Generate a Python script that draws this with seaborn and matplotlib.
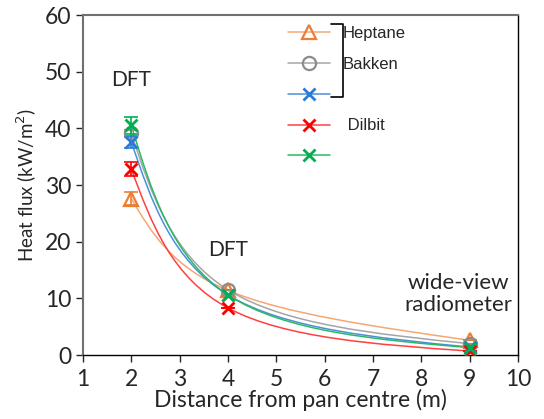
import numpy as np
import pandas as pd
import seaborn as sns
import matplotlib.pyplot as plt
from matplotlib.path import Path
from matplotlib.patches import PathPatch
from matplotlib.lines import Line2D

# distances (m)
distance = [2, 4, 9]

# heat flux per series (kW/m2)
heptane = [27.6, 11.4, 2.6]
bakken = [39.1, 11.5, 2.0]
blue_series = [37.6, 10.6, 1.4]
dilbit = [32.8, 8.3, 0.7]
green_series = [40.5, 10.6, 1.3]

# error bars (only visible at 2 m)
heptane_err = [1.1, 0, 0]
bakken_err = [0.6, 0, 0]
blue_err = [1.0, 0, 0]
dilbit_err = [1.3, 0, 0]
green_err = [1.5, 0, 0]

labels = ["Heptane", "Bakken", " ", " Dilbit", " "]


def smooth_path(xs, ys):
    # excel-like smoothed line: bezier segments, catmull-rom inside, natural ends
    p = np.column_stack([xs, ys]).astype(float)
    n = len(p)
    tang = []
    for i in range(n):
        if 0 < i < n - 1:
            tang.append((p[i + 1] - p[i - 1]) / 6.0)
        else:
            tang.append(None)
    verts = [p[0]]
    codes = [Path.MOVETO]
    for i in range(n - 1):
        a, b = p[i], p[i + 1]
        c2 = b - tang[i + 1] if tang[i + 1] is not None else None
        c1 = a + tang[i] if tang[i] is not None else None
        if c1 is None and c2 is None:
            c1 = a + (b - a) / 3
            c2 = b - (b - a) / 3
        elif c1 is None:
            c1 = a + (c2 - a) / 2
        elif c2 is None:
            c2 = b + (c1 - b) / 2
        verts += [c1, c2, b]
        codes += [Path.CURVE4] * 3
    return Path(verts, codes)


series = [
    (heptane, heptane_err, "#ED7D31", "#F4A874", "^", 10, 1.6, "none"),
    (bakken, bakken_err, "#8C8C8C", "#A5A5A5", "o", 9.5, 1.6, "none"),
    (blue_series, blue_err, "#2B7BD3", "#4A90DA", "x", 8.5, 2.0, "none"),
    (dilbit, dilbit_err, "#FF0000", "#FF4040", "x", 8.5, 2.0, "none"),
    (green_series, green_err, "#00B050", "#2CB866", "x", 8.5, 2.0, "none"),
]

sns.set_style("ticks")
plt.rcParams["font.family"] = ["Lato", "DejaVu Sans"]

fig = plt.figure(figsize=(5.44, 4.19), dpi=100)
ax = fig.add_axes([83 / 544, 64 / 419, 435 / 544, 340 / 419])

handles = []
for vals, err, col, lcol, mk, ms, mew, fc in series:
    ax.add_patch(PathPatch(smooth_path(distance, vals), facecolor="none",
                           edgecolor=lcol, lw=1.1, zorder=2))
    ax.errorbar(distance, vals, yerr=err, fmt="none", ecolor=col,
                elinewidth=1.2, capsize=5, capthick=1.2, zorder=3)
    df = pd.DataFrame({"d": distance, "q": vals})
    sns.lineplot(data=df, x="d", y="q", ax=ax, linestyle="", marker=mk,
                 markersize=ms, markerfacecolor=fc, markeredgecolor=col,
                 markeredgewidth=mew, color=col, zorder=4)
    handles.append(Line2D([], [], color=lcol, lw=1.1, marker=mk, markersize=ms,
                          markerfacecolor=fc, markeredgecolor=col,
                          markeredgewidth=mew))

ax.set_xlim(1, 10)
ax.set_ylim(0, 60)
ax.set_xticks(range(1, 11))
ax.set_yticks(range(0, 61, 10))
ax.tick_params(axis="both", labelsize=16.5, direction="out", length=5, width=1)
ax.tick_params(axis="x", pad=5)
ax.set_xlabel("Distance from pan centre (m)", fontsize=16.5, labelpad=-1)
ax.set_ylabel("Heat flux (kW/m$^2$)", fontsize=13.5, labelpad=4)

for side in ["top", "left"]:
    ax.spines[side].set_color("#707070")
    ax.spines[side].set_linewidth(1.5)
for side in ["bottom", "right"]:
    ax.spines[side].set_color("black")
    ax.spines[side].set_linewidth(1)

leg = ax.legend(handles, labels, loc="upper left", bbox_to_anchor=(288 / 544, 1 - 26 / 419),
                bbox_transform=fig.transFigure, frameon=False, borderpad=0,
                borderaxespad=0, handlelength=2.5, handletextpad=0.8,
                labelspacing=0.95, prop={"family": "Liberation Sans", "size": 12})

# bracket grouping the first three entries
fig.add_artist(Line2D([331 / 544, 343 / 544, 343 / 544, 331 / 544],
                      [1 - 24 / 419, 1 - 24 / 419, 1 - 97 / 419, 1 - 97 / 419],
                      color="black", lw=1.2, transform=fig.transFigure))

ax.text(2, 48.5, "DFT", fontsize=15, ha="center", va="center")
ax.text(4, 18.5, "DFT", fontsize=15, ha="center", va="center")
ax.text(8.76, 10.8, "wide-view\nradiometer", fontsize=16, ha="center", va="center",
        linespacing=1.15)

fig.savefig("out.png", dpi=100)
